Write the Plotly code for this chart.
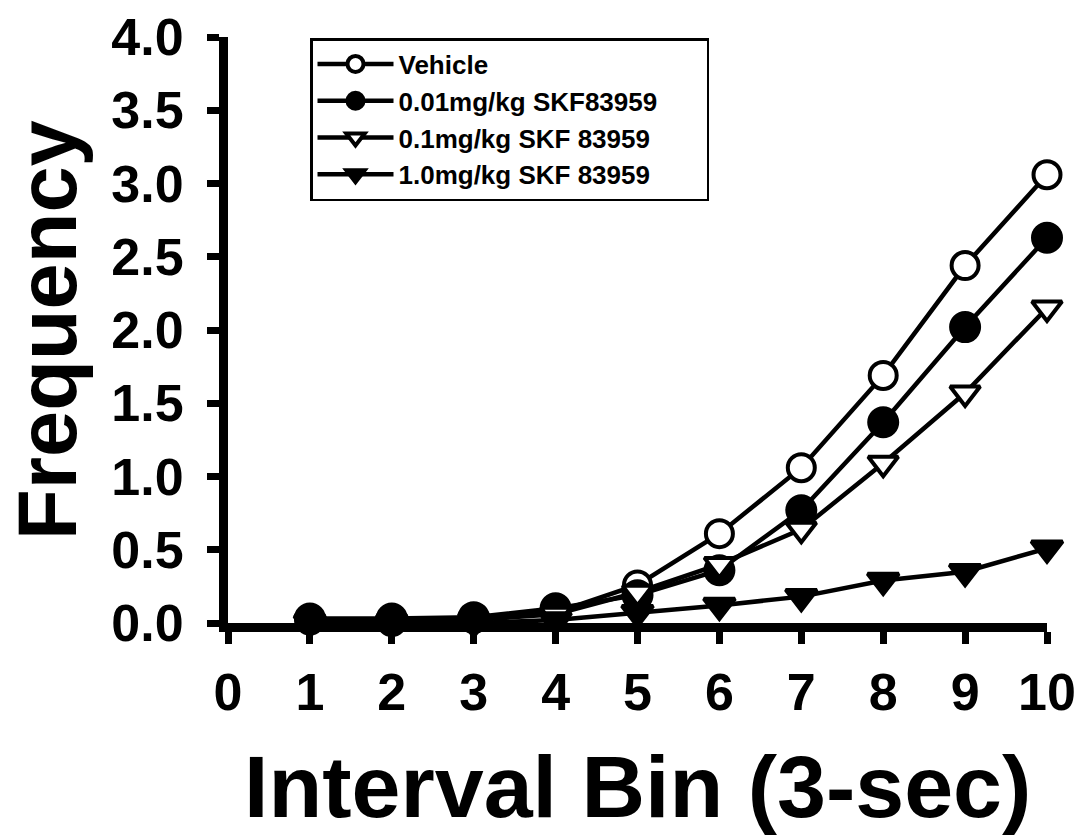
import plotly.graph_objects as go

bins = [1, 2, 3, 4, 5, 6, 7, 8, 9, 10]
vehicle = [0.02, 0.01, 0.03, 0.07, 0.26, 0.61, 1.06, 1.69, 2.44, 3.06]
skf_001 = [0.03, 0.03, 0.04, 0.10, 0.19, 0.36, 0.77, 1.37, 2.02, 2.63]
skf_01 = [0.01, 0.01, 0.02, 0.06, 0.21, 0.40, 0.64, 1.09, 1.57, 2.15]
skf_10 = [0.0, 0.0, 0.0, 0.02, 0.07, 0.12, 0.18, 0.29, 0.35, 0.51]
names = ["Vehicle", "0.01mg/kg SKF83959", "0.1mg/kg SKF 83959", "1.0mg/kg SKF 83959"]
x_ticks = [0, 1, 2, 3, 4, 5, 6, 7, 8, 9, 10]
y_ticks = [0.0, 0.5, 1.0, 1.5, 2.0, 2.5, 3.0, 3.5, 4.0]
x_title = "Interval Bin (3-sec)"
y_title = "Frequency"

styles = [
    dict(symbol="circle", color="white", size=27),
    dict(symbol="circle", color="black", size=28),
    dict(symbol="triangle-down", color="white", size=26),
    dict(symbol="triangle-down", color="black", size=27),
]
series = [vehicle, skf_001, skf_01, skf_10]
legend_pad = "\u00a0" * 6  # widens the legend box to match the reference

fig = go.Figure()
for i in range(4):
    st = styles[i]
    fig.add_trace(go.Scatter(
        x=bins, y=series[i], name=names[i] + (legend_pad if i == 1 else ""),
        mode="lines+markers",
        line=dict(color="black", width=4.5),
        marker=dict(symbol=st["symbol"], size=st["size"], color=st["color"],
                    line=dict(color="black", width=4)),
        cliponaxis=False,
    ))

font_family = "Liberation Sans, Arial, sans-serif"
L, R, T, B = 228, 34, 37, 216
plot_w = 1081 - L - R
plot_h = 839 - T - B

fig.update_layout(
    width=1081, height=839,
    margin=dict(l=L, r=R, t=T, b=B, autoexpand=False),
    paper_bgcolor="white", plot_bgcolor="white",
    showlegend=True,
    legend=dict(
        x=(310 - L) / plot_w, y=1.0 - (38 - T) / plot_h, xanchor="left", yanchor="top",
        bgcolor="white", bordercolor="black", borderwidth=2.5,
        font=dict(family=font_family, size=26, color="black", weight="bold"),
        tracegroupgap=0, itemwidth=76, itemsizing="trace",
    ),
    xaxis=dict(
        range=[0, 10], tickvals=x_ticks, ticktext=[str(v) for v in x_ticks],
        automargin=False,
        showgrid=False, zeroline=False, showline=True, linecolor="black", linewidth=9,
        ticks="outside", ticklen=12, tickwidth=7, tickcolor="black",
        tickfont=dict(family=font_family, size=52, color="black", weight="bold"),
        ticklabelstandoff=4,
    ),
    yaxis=dict(
        range=[0, 4], tickvals=y_ticks, ticktext=[f"{v:.1f}" for v in y_ticks],
        automargin=False,
        showgrid=False, zeroline=False, showline=True, linecolor="black", linewidth=9,
        ticks="outside", ticklen=12, tickwidth=7, tickcolor="black",
        tickfont=dict(family=font_family, size=52, color="black", weight="bold"),
        ticklabelstandoff=13,
    ),
    annotations=[
        dict(text=y_title, textangle=-90, xref="paper", yref="paper",
             x=(47 - L) / plot_w, y=0.5, xanchor="center", yanchor="middle",
             showarrow=False,
             font=dict(family=font_family, size=83, color="black", weight="bold")),
        dict(text=x_title, xref="paper", yref="paper",
             x=0.5, y=-(786 - (T + plot_h)) / plot_h, xanchor="center", yanchor="middle",
             showarrow=False,
             font=dict(family=font_family, size=88, color="black", weight="bold")),
    ],
)

fig.write_html("out.html")
